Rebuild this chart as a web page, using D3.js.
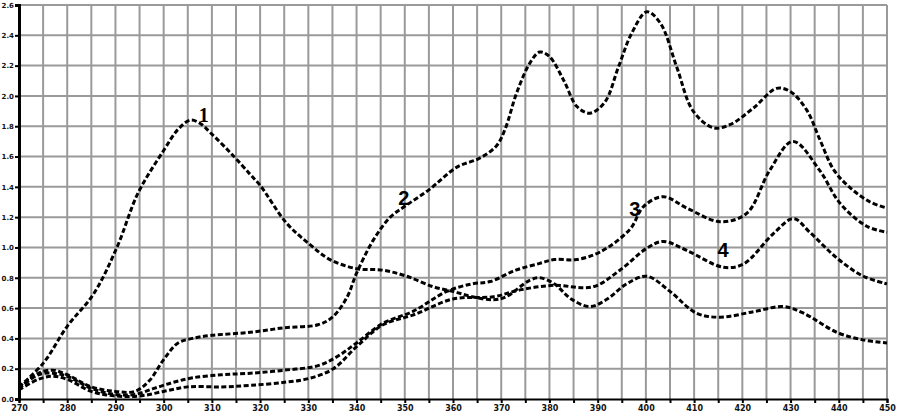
<!DOCTYPE html>
<html>
<head>
<meta charset="utf-8">
<script src="https://cdn.jsdelivr.net/npm/d3@7/dist/d3.min.js"></script>
<style>
  body { margin: 0; background: #fff; }
  .tick text { font-family: "DejaVu Sans", sans-serif; font-weight: bold; }
</style>
</head>
<body>
<svg id="chart" width="911" height="418"></svg>
<script>
// wavelength (x) / value (y) pairs
var curve1 = [[270,0.08],[275,0.235],[280,0.48],[285.4,0.69],[290.3,1.0],[294.7,1.36],[300,1.64],[303,1.78],[305.5,1.84],[307.5,1.82],[309.6,1.76],[314,1.62],[318,1.48],[320,1.41],[325.5,1.16],[330.3,1.02],[334.5,0.92],[340,0.86],[345.5,0.85],[350.4,0.81],[356,0.74],[360,0.71],[364,0.675],[368.4,0.655],[371,0.675],[376,0.785],[378,0.80],[381,0.76],[384.5,0.66],[388.4,0.61],[392,0.66],[396,0.76],[400.2,0.81],[405,0.71],[410.5,0.566],[415.4,0.54],[422.3,0.576],[428.5,0.61],[432.7,0.566],[439.6,0.44],[445,0.39],[450,0.37]];
var curve2 = [[270,0.07],[274,0.17],[277,0.19],[280,0.16],[285,0.08],[290,0.05],[294,0.05],[297,0.12],[300,0.26],[303,0.37],[306,0.40],[310,0.42],[318,0.44],[325,0.47],[332,0.49],[335,0.54],[338,0.67],[340,0.83],[343.5,1.05],[347,1.2],[350.4,1.28],[355,1.38],[360.8,1.53],[365.6,1.59],[369,1.67],[370.8,1.78],[373.2,2.02],[376,2.22],[378,2.29],[380,2.26],[383,2.1],[385.7,1.93],[388.4,1.886],[391.5,1.96],[394.3,2.19],[397,2.41],[400.2,2.555],[403,2.48],[406.4,2.19],[409.8,1.9],[414,1.79],[417.4,1.81],[422.3,1.92],[427.1,2.05],[429.9,2.03],[433.3,1.91],[436.1,1.71],[439,1.51],[442.5,1.39],[446.5,1.30],[450,1.26]];
var curve3 = [[270,0.07],[274,0.16],[277,0.17],[280,0.15],[285,0.07],[290,0.03],[294,0.03],[298,0.07],[302,0.11],[306,0.14],[312,0.16],[318,0.17],[325,0.19],[332,0.22],[336,0.28],[340,0.37],[345.5,0.5],[351.8,0.58],[358.7,0.71],[364,0.76],[367.7,0.775],[373,0.85],[378,0.895],[381,0.92],[385.6,0.92],[390.5,0.97],[396.7,1.12],[399.5,1.27],[403.6,1.335],[408.5,1.26],[415.4,1.17],[420.9,1.225],[425.7,1.51],[430.5,1.70],[436,1.51],[440.3,1.29],[445.8,1.14],[450,1.10]];
var curve4 = [[270,0.06],[274,0.13],[277,0.15],[280,0.13],[285,0.05],[290,0.02],[295,0.02],[300,0.05],[305,0.08],[312,0.08],[318,0.09],[325,0.11],[330.3,0.137],[335.2,0.2],[340,0.345],[345.5,0.49],[351.8,0.555],[360,0.66],[368.4,0.675],[373.9,0.72],[380.8,0.75],[389,0.74],[394.6,0.85],[400.2,0.995],[403.6,1.04],[408.5,0.98],[416,0.87],[420.2,0.89],[426.4,1.09],[430.6,1.19],[434,1.10],[439.6,0.93],[445.1,0.81],[450,0.76]];

var series = [curve1, curve2, curve3, curve4];
var curveLabels = [
  { text: '1', x: 308.3, y: 1.83, font: '"Liberation Serif", serif' },
  { text: '2', x: 349.8, y: 1.28, font: '"Liberation Sans", sans-serif' },
  { text: '3', x: 397.7, y: 1.21, font: '"Liberation Sans", sans-serif' },
  { text: '4', x: 416, y: 0.94, font: '"Liberation Sans", sans-serif' }
];

var margin = { top: 5, right: 24, bottom: 19, left: 19 };
var svg = d3.select('#chart');
var width = +svg.attr('width') - margin.left - margin.right;
var height = +svg.attr('height') - margin.top - margin.bottom;
var g = svg.append('g').attr('transform', 'translate(' + margin.left + ',' + margin.top + ')');

var x = d3.scaleLinear().domain([270, 450]).range([0, width]);
var y = d3.scaleLinear().domain([0, 2.6]).range([height, 0]);

// grid
g.append('g').selectAll('line.v')
  .data(d3.range(275, 451, 5))
  .enter().append('line')
  .attr('x1', function (d) { return x(d) }).attr('x2', function (d) { return x(d) })
  .attr('y1', 0).attr('y2', height)
  .attr('stroke', '#9a9a9a').attr('stroke-width', 2);
g.append('g').selectAll('line.h')
  .data(d3.range(1, 14).map(function (i) { return i * 0.2 }))
  .enter().append('line')
  .attr('x1', 0).attr('x2', width)
  .attr('y1', function (d) { return y(d) }).attr('y2', function (d) { return y(d) })
  .attr('stroke', '#9a9a9a').attr('stroke-width', 2);

// axes
var xAxis = d3.axisBottom(x).tickValues(d3.range(270, 451, 5)).tickSize(4)
  .tickFormat(function (d) { return d % 10 === 0 ? d : '' });
var gx = g.append('g').attr('transform', 'translate(0,' + height + ')').call(xAxis);
gx.select('.domain').attr('stroke', '#000').attr('stroke-width', 2);
gx.selectAll('.tick line').attr('stroke', '#000').attr('stroke-width', 2);
gx.selectAll('.tick text').attr('font-size', 8).attr('dy', '0.6em').attr('fill', '#111');

var yAxis = d3.axisLeft(y).tickValues(d3.range(0, 14).map(function (i) { return i * 0.2 }))
  .tickSize(4).tickFormat(d3.format('.1f'));
var gy = g.append('g').call(yAxis);
gy.select('.domain').attr('stroke', '#000').attr('stroke-width', 3);
gy.selectAll('.tick line').attr('stroke', '#000').attr('stroke-width', 2);
gy.selectAll('.tick text').attr('font-size', 7).attr('x', -5).attr('fill', '#111');

// curves
var line = d3.line()
  .x(function (d) { return x(d[0]) })
  .y(function (d) { return y(d[1]) })
  .curve(d3.curveCatmullRom.alpha(0.5));

g.append('g').selectAll('path')
  .data(series)
  .enter().append('path')
  .attr('d', line)
  .attr('fill', 'none')
  .attr('stroke', '#000')
  .attr('stroke-width', 3)
  .attr('stroke-dasharray', '5,2.5');

g.append('g').selectAll('text')
  .data(curveLabels)
  .enter().append('text')
  .attr('x', function (d) { return x(d.x) })
  .attr('y', function (d) { return y(d.y) })
  .attr('font-family', function (d) { return d.font })
  .attr('font-weight', 'bold')
  .attr('font-size', 20)
  .attr('text-anchor', 'middle')
  .text(function (d) { return d.text });
</script>
</body>
</html>
